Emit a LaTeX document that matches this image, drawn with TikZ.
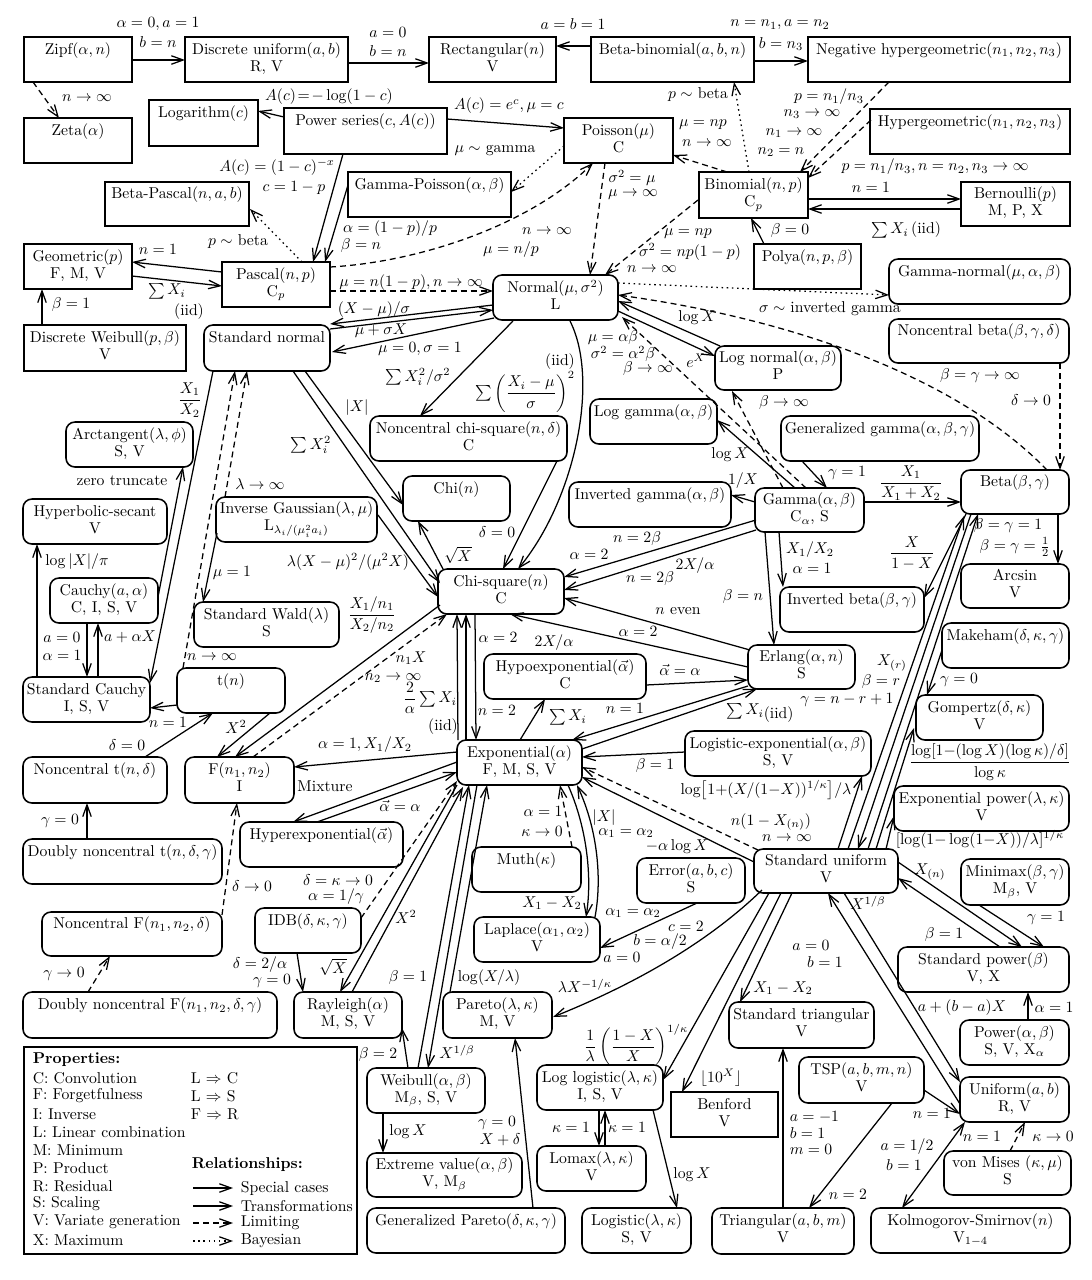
\RequirePackage{fix-cm}
\documentclass[tikz,border=0pt]{standalone}
\usepackage{amsmath}
\usetikzlibrary{arrows.meta,calc}
\newcommand\fsz{\fontsize{10}{10.83}\selectfont}
\newcounter{lbc}
\makeatletter
\newcommand\BX[8]{%
  \pgfmathsetmacro\BXw{(#5-#3)*0.637}\pgfmathsetmacro\BXh{(#6-#4)*0.637}%
  \pgfmathsetmacro\BXx{(#3+#5)/2}\pgfmathsetmacro\BXy{(#4+#6)/2}%
  \expandafter\xdef\csname bxcx@#2\endcsname{\BXx}%
  \expandafter\xdef\csname bxcy@#2\endcsname{\BXy}%
  \node[#1,minimum width=\BXw pt,minimum height=\BXh pt] (#2) at (\BXx,\BXy) {\strut #7\\\strut #8};}
\newcommand\CN[7][con]{%
  \edef\qtmp{#3-\csname bxcx@#2\endcsname}\pgfmathsetmacro\qa{\qtmp}%
  \edef\qtmp{#4-\csname bxcy@#2\endcsname}\pgfmathsetmacro\qb{\qtmp}%
  \edef\qtmp{#6-\csname bxcx@#5\endcsname}\pgfmathsetmacro\qc{\qtmp}%
  \edef\qtmp{#7-\csname bxcy@#5\endcsname}\pgfmathsetmacro\qd{\qtmp}%
  \draw[#1] ($(#2.center)+(\qa,\qb)$) -- ($(#5.center)+(\qc,\qd)$);}
\newcommand\CC[8][con]{%
  \edef\qtmp{#3-\csname bxcx@#2\endcsname}\pgfmathsetmacro\qa{\qtmp}%
  \edef\qtmp{#4-\csname bxcy@#2\endcsname}\pgfmathsetmacro\qb{\qtmp}%
  \edef\qtmp{#6-\csname bxcx@#5\endcsname}\pgfmathsetmacro\qc{\qtmp}%
  \edef\qtmp{#7-\csname bxcy@#5\endcsname}\pgfmathsetmacro\qd{\qtmp}%
  \draw[#1] ($(#2.center)+(\qa,\qb)$) .. controls #8 .. ($(#5.center)+(\qc,\qd)$);}
\makeatother
\newcommand\LB[3][]{\stepcounter{lbc}\node[lab,#1] (lab\thelbc) at (#2) {#3};}
\tikzset{
  bxs/.style={draw, line width=1pt, inner xsep=0.5pt, inner ysep=0pt, align=center, font=\fsz},
  disc/.style={bxs},
  cont/.style={bxs, rounded corners=5.7pt},
  lab/.style={inner sep=0.3pt, font=\fsz},
  leg/.style={lab, anchor=west},
  con/.style={line width=0.8pt, -{Straight Barb[length=7.5pt,width=5.4pt]}},
  lim/.style={con, dash pattern=on 3.8pt off 2.6pt},
  bay/.style={con, dash pattern=on 1pt off 2.3pt},
  bicon/.style={con, {Straight Barb[length=7.5pt,width=5.4pt]}-{Straight Barb[length=7.5pt,width=5.4pt]}},
}
\begin{document}
\begin{tikzpicture}[x=0.637pt,y=-0.637pt]
\fill[white] (0,0) rectangle (1092,1280);
\path[use as bounding box] (0,0) rectangle (1092,1280);
% ---------- discrete ----------
\BX{disc}{zipf}{24}{37}{132}{82}{Zipf$(\alpha,n)$}{}
\BX{disc}{dunif}{185}{37}{348}{82}{Discrete uniform$(a,b)$}{R, V}
\BX{disc}{rect}{429}{37}{556}{82}{Rectangular$(n)$}{V}
\BX{disc}{betabin}{591}{37}{754}{82}{Beta-binomial$(a,b,n)$}{}
\BX{disc}{neghyp}{808}{37}{1070}{82}{Negative hypergeometric$(n_1,n_2,n_3)$}{}
\BX{disc}{zeta}{24}{118}{132}{163}{Zeta$(\alpha)$}{}
\BX{disc}{logar}{149}{100}{258}{146}{Logarithm$(c)$}{}
\BX{disc}{pseries}{284}{108}{447}{154}{Power series$(c,A(c))$}{}
\BX{disc}{poisson}{564}{118}{673}{163}{Poisson$(\mu)$}{C}
\BX{disc}{hypgeo}{870}{109}{1070}{154}{Hypergeometric$(n_1,n_2,n_3)$}{}
\BX{disc}{betapas}{105}{182}{249}{226}{Beta-Pascal$(n,a,b)$}{}
\BX{disc}{gampois}{348}{172}{511}{217}{Gamma-Poisson$(\alpha,\beta)$}{}
\BX{disc}{binom}{699}{172}{808}{218}{Binomial$(n,p)$}{C$_p$}
\BX{disc}{bern}{961}{182}{1070}{226}{Bernoulli$(p)$}{M, P, X}
\BX{disc}{geom}{24}{244}{132}{289}{Geometric$(p)$}{F, M, V}
\BX{disc}{pascal}{222}{262}{330}{307}{Pascal$(n,p)$}{C$_p$}
\BX{disc}{polya}{754}{244}{861}{289}{Polya$(n,p,\beta)$}{}
\BX{disc}{dweib}{24}{325}{186}{371}{Discrete Weibull$(p,\beta)$}{V}
\BX{disc}{benford}{671}{1092}{778}{1137}{Benford}{V}
% ---------- continuous ----------
\BX{cont}{normal}{493}{275}{618}{320}{Normal$(\mu,\sigma^2)$}{L}
\BX{cont}{gamnorm}{889}{259}{1070}{304}{Gamma-normal$(\mu,\alpha,\beta)$}{}
\BX{cont}{stdnorm}{204}{325}{330}{371}{Standard normal}{}
\BX{cont}{ncbeta}{889}{319}{1069}{363}{Noncentral beta$(\beta,\gamma,\delta)$}{}
\BX{cont}{lognorm}{715}{346}{841}{390}{Log normal$(\alpha,\beta)$}{P}
\BX{cont}{ncchisq}{370}{416}{567}{461}{Noncentral chi-square$(n,\delta)$}{C}
\BX{cont}{loggam}{590}{399}{717}{444}{Log gamma$(\alpha,\beta)$}{}
\BX{cont}{gengam}{781}{416}{979}{461}{Generalized gamma$(\alpha,\beta,\gamma)$}{}
\BX{cont}{arctan}{66}{422}{193}{467}{Arctangent$(\lambda,\phi)$}{S, V}
\BX{cont}{hypsec}{23}{499}{167}{544}{Hyperbolic-secant}{V}
\BX{cont}{chi}{403}{476}{510}{521}{Chi$(n)$}{}
\BX{cont}{invgau}{216}{497}{377}{542}{Inverse Gaussian$(\lambda,\mu)$}{L$_{\lambda_i/(\mu_i^2a_i)}$}
\BX{cont}{invgam}{569}{482}{731}{527}{Inverted gamma$(\alpha,\beta)$}{}
\BX{cont}{gamma}{755}{488}{864}{532}{Gamma$(\alpha,\beta)$}{C$_\alpha$, S}
\BX{cont}{beta}{961}{470}{1069}{514}{Beta$(\beta,\gamma)$}{}
\BX{cont}{cauchy}{50}{578}{158}{623}{Cauchy$(a,\alpha)$}{C, I, S, V}
\BX{cont}{chisq}{438}{569}{564}{614}{Chi-square$(n)$}{C}
\BX{cont}{wald}{194}{602}{339}{647}{Standard Wald$(\lambda)$}{S}
\BX{cont}{invbeta}{780}{587}{924}{632}{Inverted beta$(\beta,\gamma)$}{}
\BX{cont}{arcsin}{961}{564}{1069}{608}{Arcsin}{V}
\BX{cont}{makeham}{942}{623}{1069}{668}{Makeham$(\delta,\kappa,\gamma)$}{}
\BX{cont}{hypoexp}{484}{654}{646}{699}{Hypoexponential$(\vec\alpha)$}{C}
\BX{cont}{erlang}{748}{645}{855}{689}{Erlang$(\alpha,n)$}{S}
\BX{cont}{stdcauchy}{23}{677}{150}{722}{Standard Cauchy}{I, S, V}
\BX{cont}{tdist}{177}{668}{285}{713}{t$(n)$}{}
\BX{cont}{gompertz}{916}{695}{1043}{740}{Gompertz$(\delta,\kappa)$}{V}
\BX{cont}{expo}{457}{740}{582}{785}{Exponential$(\alpha)$}{F, M, S, V}
\BX{cont}{logexp}{685}{731}{871}{776}{Logistic-exponential$(\alpha,\beta)$}{S, V}
\BX{cont}{nct}{23}{757}{167}{803}{Noncentral t$(n,\delta)$}{}
\BX{cont}{fdist}{185}{757}{294}{803}{F$(n_1,n_2)$}{I}
\BX{cont}{exppow}{894}{786}{1069}{831}{Exponential power$(\lambda,\kappa)$}{V}
\BX{cont}{hyperexp}{240}{822}{403}{867}{Hyperexponential$(\vec\alpha)$}{}
\BX{cont}{dnct}{23}{839}{222}{884}{Doubly noncentral t$(n,\delta,\gamma)$}{}
\BX{cont}{muth}{472}{847}{581}{892}{Muth$(\kappa)$}{}
\BX{cont}{error}{637}{858}{745}{903}{Error$(a,b,c)$}{S}
\BX{cont}{stdunif}{754}{849}{898}{893}{Standard uniform}{V}
\BX{cont}{minimax}{961}{859}{1069}{905}{Minimax$(\beta,\gamma)$}{M$_\beta$, V}
\BX{cont}{ncf}{42}{912}{222}{956}{Noncentral F$(n_1,n_2,\delta)$}{}
\BX{cont}{idb}{255}{908}{361}{953}{IDB$(\delta,\kappa,\gamma)$}{}
\BX{cont}{laplace}{474}{917}{600}{962}{Laplace$(\alpha_1,\alpha_2)$}{V}
\BX{cont}{stdpow}{898}{947}{1069}{992}{Standard power$(\beta)$}{V, X}
\BX{cont}{dncf}{23}{992}{277}{1038}{Doubly noncentral F$(n_1,n_2,\delta,\gamma)$}{}
\BX{cont}{rayleigh}{294}{992}{402}{1038}{Rayleigh$(\alpha)$}{M, S, V}
\BX{cont}{pareto}{443}{992}{552}{1038}{Pareto$(\lambda,\kappa)$}{M, V}
\BX{cont}{stdtri}{729}{1002}{874}{1048}{Standard triangular}{V}
\BX{cont}{power}{960}{1020}{1069}{1065}{Power$(\alpha,\beta)$}{S, V, X$_\alpha$}
\BX{cont}{weibull}{367}{1068}{485}{1113}{Weibull$(\alpha,\beta)$}{M$_\beta$, S, V}
\BX{cont}{loglog}{537}{1065}{663}{1110}{Log logistic$(\lambda,\kappa)$}{I, S, V}
\BX{cont}{tsp}{799}{1057}{924}{1103}{TSP$(a,b,m,n)$}{V}
\BX{cont}{unif}{960}{1077}{1069}{1122}{Uniform$(a,b)$}{R, V}
\BX{cont}{extval}{367}{1153}{522}{1197}{Extreme value$(\alpha,\beta)$}{V, M$_\beta$}
\BX{cont}{lomax}{537}{1146}{646}{1191}{Lomax$(\lambda,\kappa)$}{V}
\BX{cont}{vonmises}{944}{1151}{1071}{1195}{von Mises $(\kappa,\mu)$}{S}
\BX{cont}{genpar}{367}{1208}{565}{1253}{Generalized Pareto$(\delta,\kappa,\gamma)$}{}
\BX{cont}{logistic}{582}{1208}{691}{1253}{Logistic$(\lambda,\kappa)$}{S, V}
\BX{cont}{tri}{712}{1208}{854}{1254}{Triangular$(a,b,m)$}{V}
\BX{cont}{ks}{871}{1208}{1070}{1253}{Kolmogorov-Smirnov$(n)$}{V$_{1-4}$}
% ---------- connectors: top ----------
\CN{zipf}{132}{60}{dunif}{185}{60}
\CN{dunif}{348}{63}{rect}{429}{63}
\CN{betabin}{591}{46}{rect}{556}{46}
\CN{betabin}{754}{61}{neghyp}{808}{61}
\CN[lim]{zipf}{33}{82}{zeta}{59}{118}
\CN{pseries}{284}{117}{logar}{258}{111}
\CN{pseries}{447}{119}{poisson}{564}{128}
\CN[bay]{poisson}{564}{146}{gampois}{511}{192}
\CN{pseries}{343}{154}{pascal}{313}{262}
\CN{gampois}{348}{185}{pascal}{325}{262}
\CN[bay]{pascal}{302}{262}{betapas}{250}{209}
\CN{pascal}{222}{272}{geom}{132}{262}
\CN{geom}{132}{276}{pascal}{222}{286}
\CN{dweib}{42}{325}{geom}{42}{289}
\CC[lim]{pascal}{330}{267}{poisson}{593}{163}{(420,262) and (530,225)}
\CN[lim]{pascal}{330}{291}{normal}{493}{291}
\CN[lim]{poisson}{605}{163}{normal}{590}{275}
\CN[lim]{binom}{727}{172}{poisson}{673}{155}
\CN[lim]{binom}{698}{200}{normal}{605}{275}
\CN[bay]{binom}{749}{172}{betabin}{734}{82}
\CN[lim]{neghyp}{889}{82}{binom}{800}{172}
\CN[lim]{hypgeo}{871}{120}{binom}{808}{178}
\CN{binom}{808}{199}{bern}{961}{199}
\CN{bern}{961}{209}{binom}{808}{209}
\CN{polya}{764}{244}{binom}{751}{218}
\CN[bay]{normal}{618}{283}{gamnorm}{889}{295}
\CC[lim]{beta}{1047}{470}{normal}{618}{295}{(960,380) and (800,320)}
\CN{lognorm}{720}{346}{normal}{618}{301}
\CN{normal}{618}{311}{lognorm}{715}{356}
% ---------- gamma / beta region ----------
\CN[lim]{gamma}{806}{488}{normal}{622}{317}
\CN[lim]{gamma}{783}{488}{lognorm}{732}{391}
\CN{gamma}{795}{488}{loggam}{717}{420}
\CN{gengam}{802}{461}{gamma}{827}{488}
\CN{gamma}{755}{502}{invgam}{731}{495}
\CN{gamma}{864}{502}{beta}{961}{502}
\CN{gamma}{779}{532}{invbeta}{783}{587}
\CN{gamma}{765}{532}{erlang}{774}{645}
\CN{gamma}{756}{520}{chisq}{564}{577}
\CN{gamma}{756}{530}{chisq}{564}{590}
\CN{beta}{966}{514}{invbeta}{924}{598}
\CN{stdunif}{848}{849}{beta}{964}{516}
\CN{beta}{971}{514}{stdunif}{858}{849}
\CN{stdunif}{868}{849}{beta}{978}{514}
\CN{beta}{1058}{514}{arcsin}{1058}{564}
\CN[lim]{ncbeta}{1060}{363}{beta}{1060}{470}
% ---------- standard uniform region ----------
\CN{stdunif}{838}{849}{logexp}{862}{776}
\CN{stdunif}{876}{849}{gompertz}{914}{728}
\CN{stdunif}{886}{849}{exppow}{894}{816}
\CN{stdunif}{898}{862}{stdpow}{1022}{947}
\CN{stdpow}{1000}{947}{stdunif}{898}{878}
\CN{minimax}{979}{905}{stdpow}{1044}{947}
\CN{power}{1028}{1020}{stdpow}{1028}{992}
\CN{makeham}{942}{650}{gompertz}{927}{695}
\CN{unif}{960}{1104}{stdunif}{828}{893}
\CN{stdunif}{844}{893}{unif}{960}{1082}
\CN{tsp}{924}{1090}{unif}{960}{1114}
\CN[bicon]{ks}{902}{1208}{unif}{965}{1122}
\CN[lim]{vonmises}{1010}{1151}{unif}{1025}{1122}
\CN{tri}{783}{1208}{stdtri}{783}{1048}
\CN{tsp}{892}{1103}{tri}{809}{1208}
\CN{stdunif}{792}{893}{stdtri}{740}{1002}
\CN{stdunif}{781}{893}{benford}{682}{1092}
\CN{stdunif}{769}{893}{loglog}{663}{1080}
\CC{stdunif}{762}{890}{pareto}{553}{1017}{(700,950) and (620,990)}
% ---------- bottom middle ----------
\CN{loglog}{599}{1110}{lomax}{599}{1146}
\CN{lomax}{605}{1146}{loglog}{605}{1110}
\CN{loglog}{653}{1110}{logistic}{677}{1208}
\CN{genpar}{533}{1208}{pareto}{515}{1038}
\CN{weibull}{383}{1113}{extval}{383}{1153}
\CN{weibull}{408}{1068}{rayleigh}{402}{1028}
\CN{pareto}{450}{992}{expo}{487}{785}
\CN{weibull}{418}{1068}{expo}{469}{785}
\CN{expo}{477}{785}{weibull}{428}{1068}
\CN{expo}{457}{785}{rayleigh}{340}{992}
\CN{rayleigh}{352}{992}{expo}{463}{787}
\CN{idb}{297}{953}{rayleigh}{303}{992}
\CN[lim]{idb}{361}{918}{expo}{457}{781}
\CN{expo}{457}{762}{hyperexp}{293}{822}
\CN{hyperexp}{317}{822}{expo}{457}{772}
\CN{expo}{457}{752}{fdist}{294}{767}
% ---------- left region ----------
\CN{chisq}{440}{605}{fdist}{235}{757}
\CN[lim]{fdist}{253}{757}{chisq}{447}{614}
\CN{tdist}{270}{713}{fdist}{217}{757}
\CN{stdnorm}{213}{371}{stdcauchy}{150}{683}
\CN{cauchy}{158}{597}{arctan}{183}{467}
\CN{stdcauchy}{37}{677}{hypsec}{37}{544}
\CN{cauchy}{87}{623}{stdcauchy}{87}{677}
\CN{stdcauchy}{98}{677}{cauchy}{98}{623}
\CN{tdist}{177}{705}{stdcauchy}{150}{708}
\CN{nct}{145}{757}{tdist}{213}{713}
\CN{dnct}{87}{839}{nct}{87}{803}
\CN[lim]{ncf}{222}{915}{fdist}{237}{803}
\CN[lim]{dncf}{88}{992}{ncf}{110}{956}
\CN[lim]{tdist}{183}{668}{stdnorm}{235}{371}
\CN[lim]{invgau}{225}{497}{stdnorm}{247}{371}
\CN{invgau}{217}{533}{wald}{203}{602}
\CN{invgau}{378}{515}{chisq}{438}{597}
\CN{stdnorm}{305}{371}{chi}{403}{505}
\CN{stdnorm}{293}{371}{chisq}{440}{583}
\CN{chisq}{443}{569}{chi}{418}{521}
\CN{normal}{513}{321}{ncchisq}{420}{416}
\CC{normal}{570}{321}{chisq}{518}{569}{(600,380) and (575,500)}
\CN{ncchisq}{557}{461}{chisq}{503}{569}
\CN{normal}{493}{305}{stdnorm}{330}{324}
\CN{stdnorm}{330}{329}{normal}{493}{310}
\CN{normal}{494}{318}{stdnorm}{332}{352}
% ---------- exponential region ----------
\CN{erlang}{750}{650}{chisq}{564}{598}
\CN{erlang}{748}{667}{chisq}{510}{614}
\CN{expo}{458}{740}{chisq}{457}{614}
\CN{expo}{466}{740}{chisq}{466}{614}
\CN{chisq}{475}{614}{expo}{476}{740}
\CN{expo}{520}{740}{hypoexp}{545}{699}
\CN{hypoexp}{646}{685}{erlang}{748}{680}
\CN{erlang}{748}{686}{expo}{572}{740}
\CN{expo}{582}{749}{erlang}{757}{689}
\CN{logexp}{685}{752}{expo}{582}{757}
\CN[lim]{stdunif}{758}{850}{expo}{582}{767}
\CN{stdunif}{754}{862}{expo}{582}{777}
\CC{expo}{568}{785}{laplace}{586}{917}{(588,830) and (592,880)}
\CC{laplace}{595}{917}{expo}{577}{785}{(602,880) and (598,830)}
\CN[lim]{muth}{572}{847}{expo}{560}{785}
\CN{error}{697}{903}{laplace}{600}{948}
% ---------- labels ----------
\LB{158,24}{$\alpha=0, a=1$}
\LB{158,42}{$b=n$}
\LB{388,32}{$a=0$}
\LB{388,51}{$b=n$}
\LB{573,24}{$a=b=1$}
\LB{780,25}{$n=n_1, a=n_2$}
\LB{781,44}{$b=n_3$}
\LB{87,98}{$n\to\infty$}
\LB{329,97}{$A(c)\!=\!-\log(1-c)$}
\LB{509,106}{$A(c)=e^c, \mu=c$}
\LB{495,151}{$\mu\sim$ gamma}
\LB{277,167}{$A(c)=(1-c)^{-x}$}
\LB{294,188}{$c=1-p$}
\LB{390,229}{$\alpha=(1-p)/p$}
\LB{361,246}{$\beta=n$}
\LB{238,242}{$p\sim$ beta}
\LB{158,249}{$n=1$}
\LB{167,291}{$\sum X_i$}
\LB{189,312}{(iid)}
\LB{71,305}{$\beta=1$}
\LB{411,283}{$\mu=n(1-p), n\to\infty$}
\LB{547,231}{$n\to\infty$}
\LB{511,250}{$\mu=n/p$}
\LB{632,178}{$\sigma^2=\mu$}
\LB{633,195}{$\mu\to\infty$}
\LB{703,125}{$\mu=np$}
\LB{707,143}{$n\to\infty$}
\LB{688,234}{$\mu=np$}
\LB{690,252}{$\sigma^2=np(1-p)$}
\LB{652,269}{$n\to\infty$}
\LB{698,95}{$p\sim$ beta}
\LB{829,97}{$p=n_1/n_3$}
\LB{812,114}{$n_3\to\infty$}
\LB{794,133}{$n_1\to\infty$}
\LB{781,152}{$n_2=n$}
\LB{935,167}{$p=n_1/n_3, n=n_2, n_3\to\infty$}
\LB{871,187}{$n=1$}
\LB{906,230}{$\sum X_i\,$(iid)}
\LB{790,231}{$\beta=0$}
\LB{830,309}{$\sigma\sim$ inverted gamma}
\LB{980,376}{$\beta=\gamma\to\infty$}
\LB{1031,400}{$\delta\to0$}
\LB{697,318}{$\log X$}
\LB{696,361}{$e^X$}
\LB{613,338}{$\mu=\alpha\beta$}
\LB{623,354}{$\sigma^2=\alpha^2\beta$}
\LB{648,369}{$\beta\to\infty$}
\LB{784,403}{$\beta\to\infty$}
\LB{730,455}{$\log X$}
\LB{847,473}{$\gamma=1$}
\LB{743,481}{$1/X$}
\LB{911,483}{$\dfrac{X_1}{X_1+X_2}$}
\LB{810,550}{$X_1/X_2$}
\LB{812,568}{$\alpha=1$}
\LB{743,597}{$\beta=n$}
\LB{637,539}{$n=2\beta$}
\LB{589,554}{$\alpha=2$}
\LB{695,566}{$2X/\alpha$}
\LB{650,579}{$n=2\beta$}
\LB{912,553}{$\dfrac{X}{1-X}$}
\LB{1008,526}{$\beta=\gamma=1$}
\LB{1015,547}{$\beta=\gamma=\frac12$}
\LB{892,663}{$X_{(r)}$}
\LB{881,682}{$\beta=r$}
\LB{847,700}{$\gamma=n-r+1$}
\LB{374,310}{$(X-\mu)/\sigma$}
\LB{381,331}{$\mu+\sigma X$}
\LB{420,349}{$\mu=0,\sigma=1$}
\LB{418,377}{$\sum X_i^2/\sigma^2$}
\LB{560,362}{(iid)}
\LB{525,392}{$\sum\left(\dfrac{X_i-\mu}{\sigma}\right)^2$}
\LB{497,532}{$\delta=0$}
\LB{357,408}{$|X|$}
\LB{311,445}{$\sum X_i^2$}
\LB{458,555}{$\sqrt{X}$}
\LB{348,562}{$\lambda(X-\mu)^2/(\mu^2X)$}
\LB{232,573}{$\mu=1$}
\LB{260,484}{$\lambda\to\infty$}
\LB{212,657}{$n\to\infty$}
\LB{236,727}{$X^2$}
\LB{190,400}{$\dfrac{X_1}{X_2}$}
\LB{122,481}{zero truncate}
\LB{77,562}{$\log|X|/\pi$}
\LB{62,637}{$a=0$}
\LB{62,655}{$\alpha=1$}
\LB{130,637}{$a+\alpha X$}
\LB{168,722}{$n=1$}
\LB{127,745}{$\delta=0$}
\LB{60,821}{$\gamma=0$}
\LB{252,886}{$\delta\to0$}
\LB{64,974}{$\gamma\to0$}
\LB{372,615}{$\dfrac{X_1/n_1}{X_2/n_2}$}
\LB{411,658}{$n_1X$}
\LB{393,678}{$n_2\to\infty$}
\LB{365,745}{$\alpha=1, X_1/X_2$}
\LB{498,637}{$\alpha=2$}
\LB{497,710}{$n=2$}
\LB{430,698}{$\dfrac{2}{\alpha}\sum X_i$}
\LB{443,727}{(iid)}
\LB{568,717}{$\sum X_i$}
\LB{680,670}{$\vec\alpha=\alpha$}
\LB{625,708}{$n=1$}
\LB{760,713}{$\sum X_i$\raisebox{-2.5pt}{(iid)}}
\LB{678,611}{$n$ even}
\LB{638,631}{$\alpha=2$}
\LB{554,643}{$2X/\alpha$}
\LB{655,766}{$\beta=1$}
\LB{677,847}{$-\alpha\log X$}
\LB{771,822}{$n(1-X_{(n)})$}
\LB{787,838}{$n\to\infty$}
\LB{604,818}{$|X|$}
\LB{626,833}{$\alpha_1=\alpha_2$}
\LB{552,903}{$X_1-X_2$}
\LB{543,811}{$\alpha=1$}
\LB{542,831}{$\kappa\to0$}
\LB{633,913}{$\alpha_1=\alpha_2$}
\LB{686,926}{$c=2$}
\LB{660,942}{$b=\alpha/2$}
\LB{622,957}{$a=0$}
\LB{325,786}{Mixture}
\LB{400,806}{$\vec\alpha=\alpha$}
\LB{338,880}{$\delta=\kappa\to0$}
\LB{336,897}{$\alpha=1/\gamma$}
\LB{260,965}{$\delta=2/\alpha$}
\LB{272,981}{$\gamma=0$}
\LB{333,967}{$\sqrt{X}$}
\LB{406,917}{$X^2$}
\LB{408,978}{$\beta=1$}
\LB{457,1052}{$X^{1/\beta}$}
\LB{489,978}{$\log(X/\lambda)$}
\LB{378,1055}{$\beta=2$}
\LB{408,1132}{$\log X$}
\LB{497,1123}{$\gamma=0$}
\LB{500,1140}{$X+\delta$}
\LB{585,986}{$\lambda X^{-1/\kappa}$}
\LB{636,1045}{$\dfrac{1}{\lambda}\left(\dfrac{1-X}{X}\right)^{1/\kappa}$}
\LB{721,1078}{$\lfloor 10^X\rfloor$}
\LB{571,1127}{$\kappa=1$}
\LB{627,1127}{$\kappa=1$}
\LB{692,1175}{$\log X$}
\LB{783,988}{$X_1-X_2$}
\LB[anchor=west]{789,1117}{$a=-1$}
\LB[anchor=west]{789,1133}{$b=1$}
\LB[anchor=west]{789,1149}{$m=0$}
\LB{848,1194}{$n=2$}
\LB{932,1113}{$n=1$}
\LB{811,945}{$a=0$}
\LB{825,962}{$b=1$}
\LB{962,1008}{$a+(b-a)X$}
\LB{1054,1007}{$\alpha=1$}
\LB{982,1136}{$n=1$}
\LB{1053,1136}{$\kappa\to0$}
\LB{907,1147}{$a=1/2$}
\LB{904,1165}{$b=1$}
\LB{1046,918}{$\gamma=1$}
\LB{944,935}{$\beta=1$}
\LB{930,872}{$X_{(n)}$}
\LB{868,903}{$X^{1/\beta}$}
\LB{959,680}{$\gamma=0$}
\LB{990,762}{$\dfrac{\log[1{-}(\log X)(\log\kappa)/\delta]}{\log\kappa}$}
\LB{980,839}{$[\log(1{-}\log(1{-}X))/\lambda]^{1/\kappa}$}
\LB{766,790}{$\log\bigl[1{+}(X/(1{-}X))^{1/\kappa}\bigr]/\lambda$}
% ---------- legend ----------
\node[draw, line width=1.6pt, minimum width=212.1pt, minimum height=131.9pt, inner sep=0pt] (legend) at (190.5,1150.5) {};
\LB[leg]{32,1060}{\textbf{Properties:}}
\LB[leg]{32,1078}{C: Convolution}
\LB[leg]{32,1096}{F: Forgetfulness}
\LB[leg]{32,1114}{I: Inverse}
\LB[leg]{32,1132}{L: Linear combination}
\LB[leg]{32,1150}{M: Minimum}
\LB[leg]{32,1168}{P: Product}
\LB[leg]{32,1186}{R: Residual}
\LB[leg]{32,1204}{S: Scaling}
\LB[leg]{32,1222}{V: Variate generation}
\LB[leg]{32,1240}{X: Maximum}
\LB[leg]{190,1078}{L $\Rightarrow$ C}
\LB[leg]{190,1096}{L $\Rightarrow$ S}
\LB[leg]{190,1114}{F $\Rightarrow$ R}
\LB[leg]{191,1165}{\textbf{Relationships:}}
\LB[leg]{240,1188}{Special cases}
\LB[leg]{240,1206}{Transformations}
\LB[leg]{240,1223}{Limiting}
\LB[leg]{240,1241}{Bayesian}
\coordinate (lgs1) at (193,1188); \coordinate (lge1) at (233,1188);
\coordinate (lgs2) at (193,1206); \coordinate (lge2) at (233,1206);
\coordinate (lgs3) at (193,1223); \coordinate (lge3) at (233,1223);
\coordinate (lgs4) at (193,1241); \coordinate (lge4) at (233,1241);
\draw[con] (lgs1) -- (lge1);
\draw[con] (lgs2) -- (lge2);
\draw[lim] (lgs3) -- (lge3);
\draw[bay] (lgs4) -- (lge4);
\end{tikzpicture}
\end{document}
